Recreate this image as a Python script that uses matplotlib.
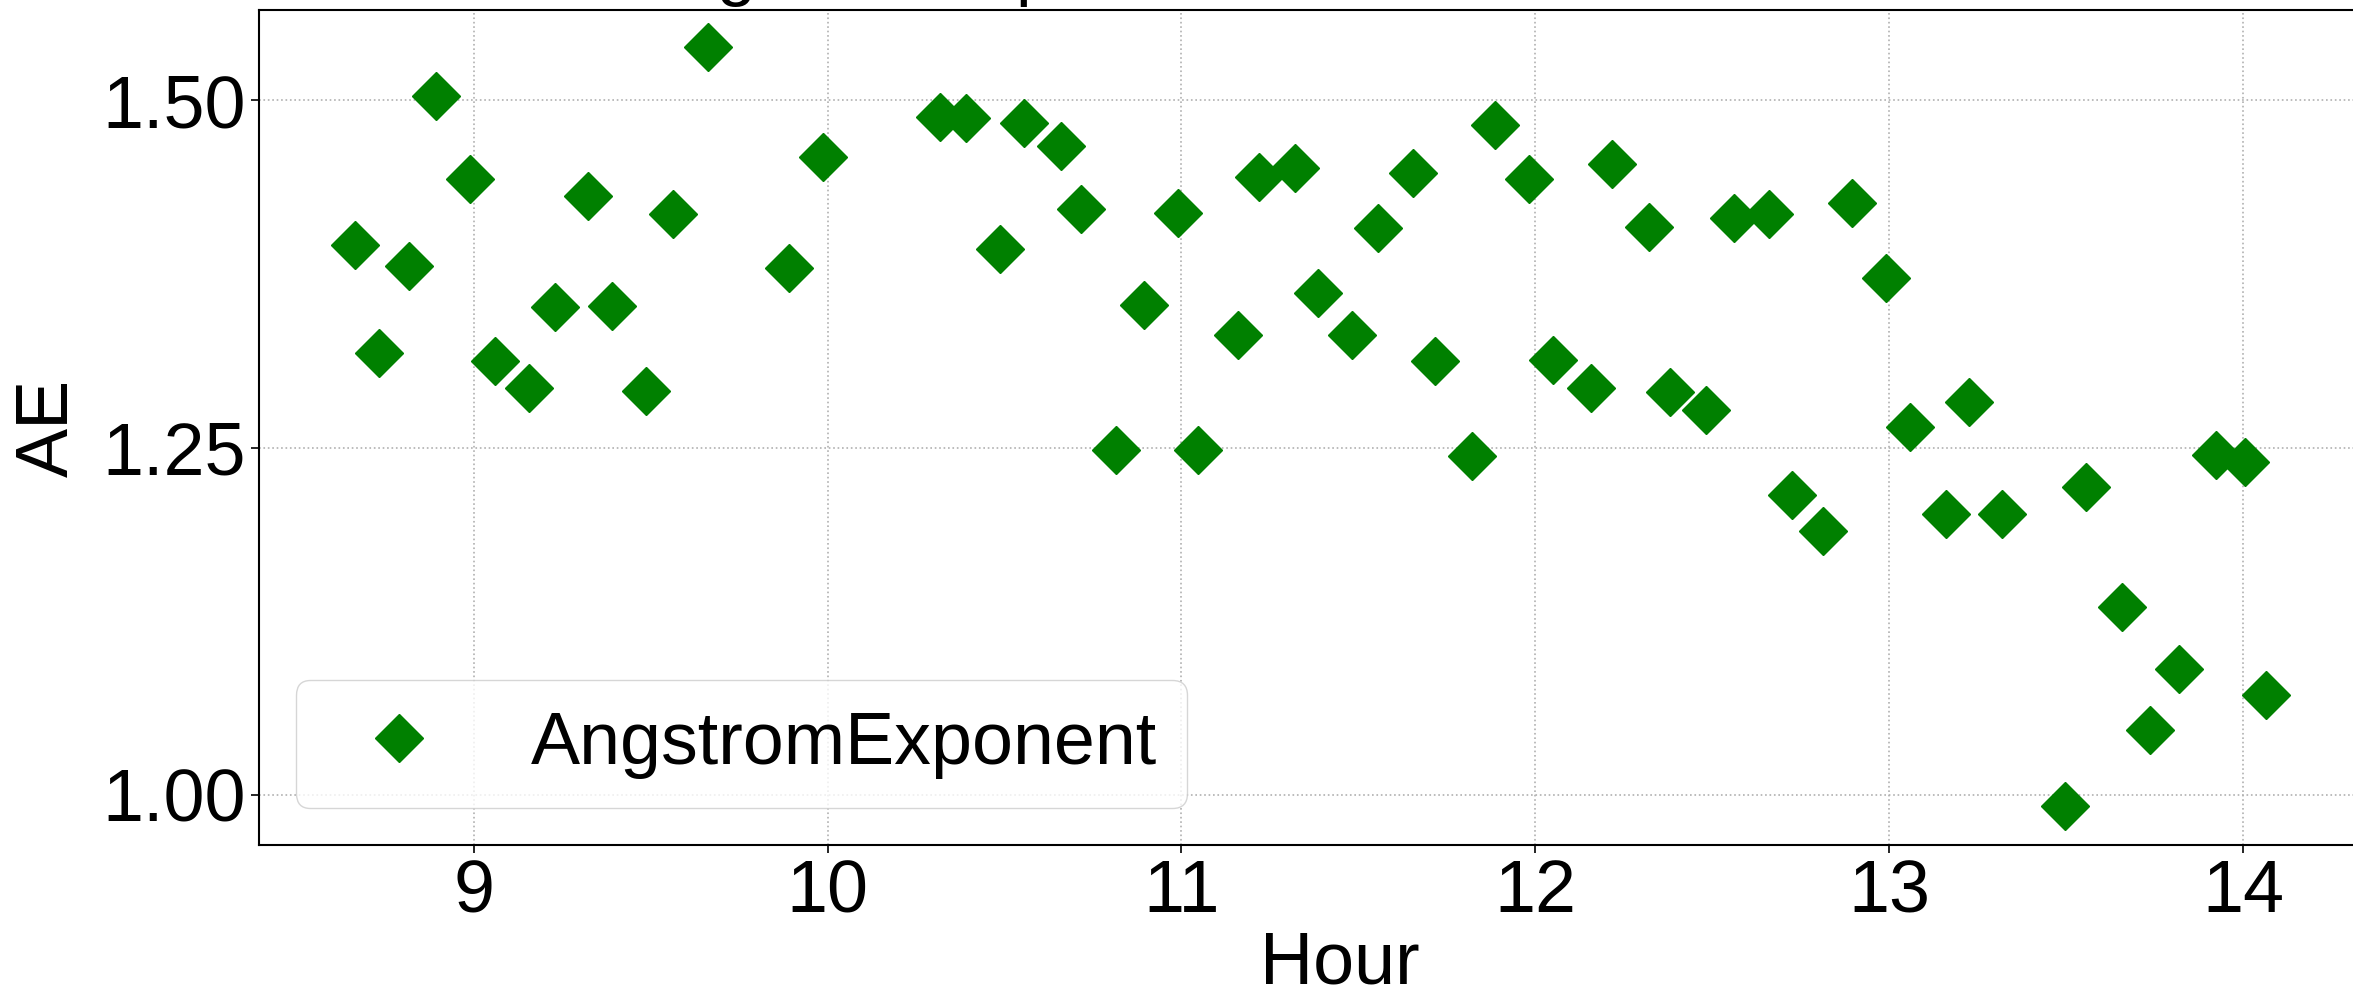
import matplotlib
matplotlib.use('Agg')
import matplotlib.pyplot as plt
from matplotlib.ticker import MultipleLocator, FormatStrFormatter

plt.rcParams['font.family'] = ['Liberation Sans', 'DejaVu Sans']

# hour of day (decimal) and Angstrom exponent
hours = [8.665, 8.733, 8.818, 8.894, 8.990, 9.060, 9.157, 9.230, 9.322, 9.390,
         9.487, 9.564, 9.661, 9.890, 9.987, 10.318, 10.390, 10.487, 10.555, 10.660,
         10.716, 10.814, 10.894, 10.990, 11.047, 11.160, 11.220, 11.320, 11.386, 11.483,
         11.555, 11.653, 11.716, 11.822, 11.886, 11.983, 12.050, 12.157, 12.216, 12.322,
         12.380, 12.483, 12.560, 12.660, 12.725, 12.814, 12.894, 12.990, 13.060, 13.160,
         13.225, 13.318, 13.496, 13.555, 13.657, 13.737, 13.818, 13.924, 14.004, 14.064]
ae = [1.396, 1.318, 1.381, 1.503, 1.443, 1.312, 1.293, 1.351, 1.431, 1.352,
      1.291, 1.418, 1.538, 1.379, 1.459, 1.488, 1.487, 1.393, 1.484, 1.467,
      1.422, 1.248, 1.353, 1.419, 1.248, 1.331, 1.445, 1.451, 1.361, 1.331,
      1.408, 1.448, 1.312, 1.244, 1.482, 1.443, 1.313, 1.293, 1.454, 1.409,
      1.290, 1.277, 1.415, 1.418, 1.216, 1.190, 1.426, 1.372, 1.265, 1.202,
      1.283, 1.202, 0.992, 1.222, 1.135, 1.047, 1.091, 1.245, 1.240, 1.072]

title_text = 'AngstromExponent'
series_label = 'AngstromExponent'

fig = plt.figure(figsize=(23.53, 9.97), dpi=100)
# axes runs past the right edge like in the original crop
ax = fig.add_axes([0.110, 0.1525, 0.9185, 0.8375])

ax.plot(hours, ae, 'D', color='green', markersize=24, linestyle='none',
        label=series_label)

ax.set_xlim(8.393, 14.5)
ax.set_ylim(0.964, 1.565)
ax.xaxis.set_major_locator(MultipleLocator(1))
ax.yaxis.set_major_locator(MultipleLocator(0.25))
ax.yaxis.set_major_formatter(FormatStrFormatter('%.2f'))

ax.grid(True, linestyle=':', color='#b0b0b0', linewidth=1.2)
ax.tick_params(labelsize=53, length=6, width=1.2)
for sp in ax.spines.values():
    sp.set_linewidth(1.5)

ax.set_xlabel('Hour', fontsize=53, labelpad=2)
ax.set_ylabel('AE', fontsize=53, labelpad=14)

ax.legend(loc='lower left', fontsize=53)

# title sits mostly above the visible area, only descenders show
fig.text(0.268, 1.0077, title_text, fontsize=51, ha='left', va='baseline')

fig.savefig('out.png', dpi=100)
